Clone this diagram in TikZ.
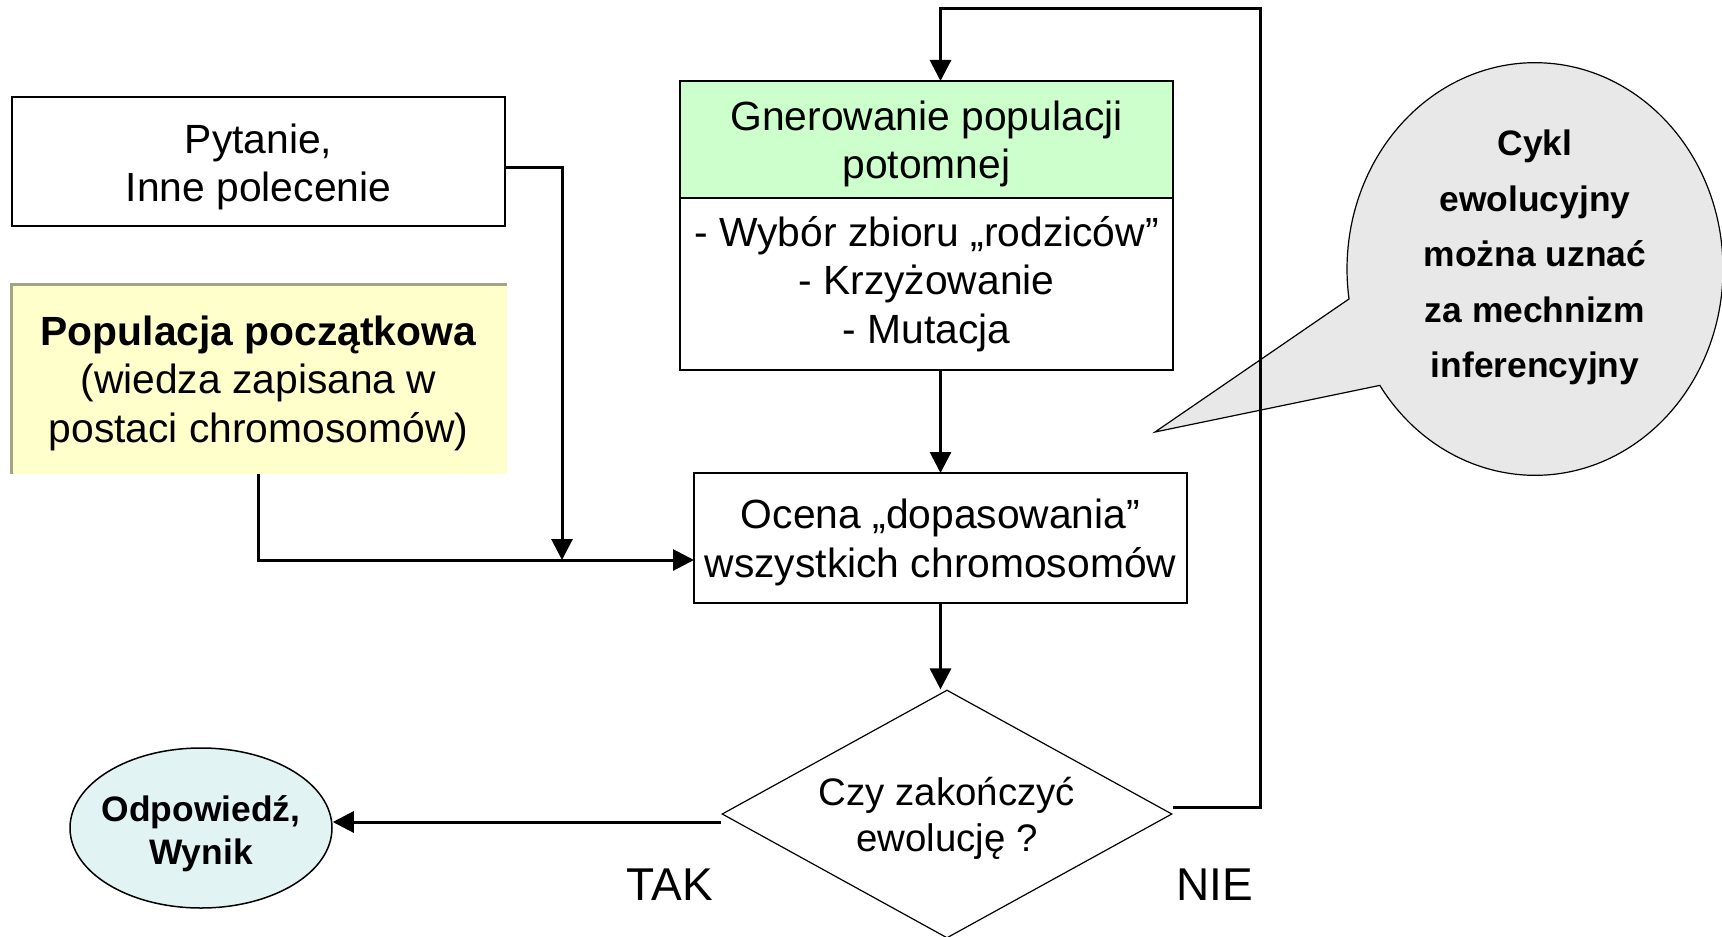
\documentclass[tikz,border=0pt]{standalone}
\usepackage{fontspec}
\setmainfont{Liberation Sans}
\usetikzlibrary{positioning,shapes.geometric,shapes.callouts,arrows.meta}
\definecolor{popyellow}{HTML}{FFFFCC}
\definecolor{gengreen}{HTML}{CCFFCC}
\definecolor{anscyan}{HTML}{E2F3F3}
\definecolor{cyclegray}{HTML}{E8E8E8}
\definecolor{edgeolive}{HTML}{A3A385}
\newcommand{\boxfont}{\fontsize{20.4}{24.25}\selectfont}
\newcommand{\askfont}{\fontsize{19.2}{23}\selectfont}
\newcommand{\notefont}{\fontsize{17.7}{27.8}\selectfont\bfseries}
\newcommand{\resultfont}{\fontsize{17.7}{21.5}\selectfont\bfseries}
\newcommand{\yesnofont}{\fontsize{23}{27}\selectfont}
\newcommand{\topto}[1]{\rule{0pt}{#1}}

\begin{document}
\begin{tikzpicture}[x=0.5pt, y=-0.5pt]
                            \tikzset{module/.style={draw, shape=rectangle, line width=0.75pt, align=center, font=\boxfont, inner sep=0pt, outer sep=0pt, minimum width=246.5pt}}
                            \tikzset{popbox/.style={module, draw=none, fill=popyellow, minimum width=248.5pt, path picture={\draw[edgeolive, line width=3pt] (path picture bounding box.south west) -- (path picture bounding box.north west) -- (path picture bounding box.north east);}}}
                            \tikzset{rise/.style={execute at end node={\rule[-#1]{0pt}{#1}}}}
                            \tikzset{flow/.style={line width=1.5pt, -{Triangle[length=10.5pt, width=10.5pt]}}}
                            \useasboundingbox (0,0) rectangle (1722,936);
                            \node[module, minimum height=64.5pt] (P) at (258.5,161.5) {\topto{20.4pt}Pytanie,\\Inne polecenie};
                            \node[popbox, minimum height=95.5pt] (Q) at (258.5,378.5) {\topto{19.4pt}\textbf{Populacja początkowa}\\(wiedza zapisana w\\postaci chromosomów)};
                            \node[module, fill=gengreen, minimum height=58.5pt] (G) at (926.5,139.5) {\topto{19.3pt}Gnerowanie populacji\\potomnej};
                            \node[module, minimum height=86pt, below=0pt of G] (g) {- Wybór zbioru „rodziców”\\- Krzyżowanie\\- Mutacja};
                            \node[module, minimum height=65pt] (O) at (940.5,538) {\topto{19.3pt}Ocena „dopasowania”\\wszystkich chromosomów};
                            \node[draw, shape=diamond, line width=0.6pt, aspect=1.8, inner sep=0pt, minimum width=225pt, minimum height=124pt, align=center, font=\askfont] (D) at (947,814) {\topto{18.4pt}Czy zakończyć\\ewolucję ?};
                            \node[draw, shape=ellipse, line width=0.75pt, fill=anscyan, minimum width=131pt, minimum height=80pt, inner xsep=-4pt, inner ysep=0pt, align=center, font=\resultfont] (E) at (201,828) {\topto{18.4pt}Odpowiedź,\\Wynik};
                            \node[font=\yesnofont] (T) at (670,885) {TAK};
                            \node[font=\yesnofont] (N) at (1215,885) {NIE};
                            \node[draw, shape=ellipse callout, rise=15.2pt, line width=0.6pt, fill=cyclegray, minimum width=188pt, minimum height=203pt, callout absolute pointer={(1155,432)}, callout pointer arc=26, align=center, font=\notefont] (C) at (1535,269) {Cykl\\ewolucyjny\\można uznać\\za mechnizm\\inferencyjny};
                            \coordinate (j) at (562,560);
                            \coordinate (k) at (1260,9);
                            \draw[flow] ([yshift=-3.25pt]P.east) -| (j);
                            \draw[flow] (Q.south) |- ([yshift=-11pt]O.west);
                            \draw[flow] (O.north |- g.south) -- (O.north);
                            \draw[flow] (O.south) -- (O.south |- D.north);
                            \draw[flow] ([yshift=-4pt]D.west) -- ([yshift=3pt]E.east);
                            \draw[flow] ([yshift=3.5pt]D.east) -| (k) -| (O.north |- G.north);
                        \end{tikzpicture}
\end{document}
